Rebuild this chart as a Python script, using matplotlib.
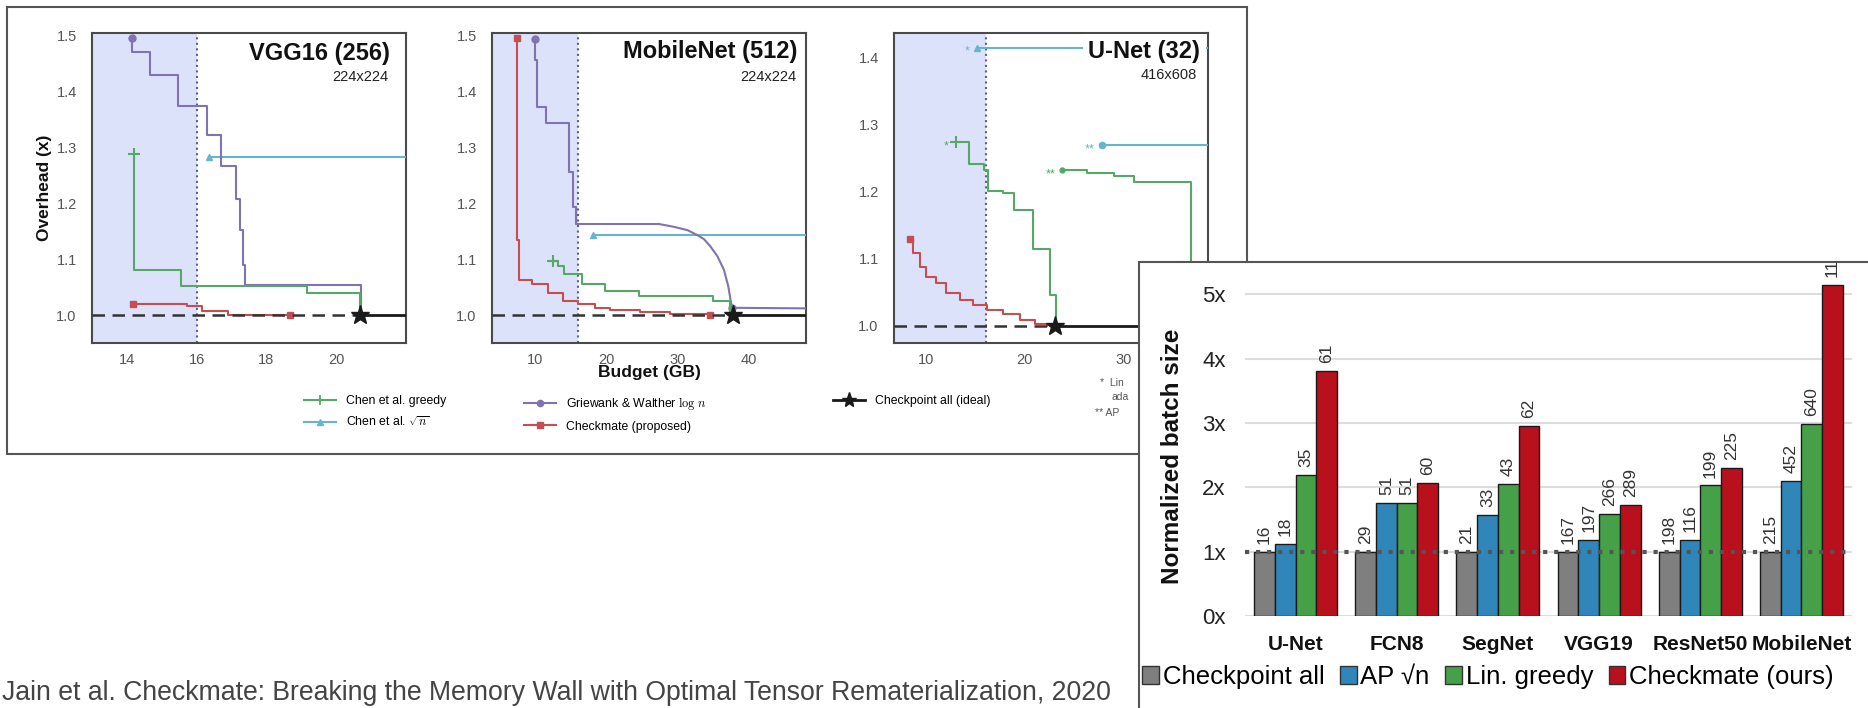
import matplotlib
matplotlib.use("Agg")
import matplotlib.pyplot as plt
from matplotlib import font_manager
from matplotlib.lines import Line2D
from matplotlib.patches import Rectangle, Patch
from matplotlib.transforms import Bbox, TransformedBbox

plt.rcParams['font.family'] = ['Liberation Sans', 'DejaVu Sans']
plt.rcParams['mathtext.fontset'] = 'cm'

W, H = 1868, 708

# ---------------- budget sweep data (budget GB, overhead x) ----------------
# VGG16 (256), 224x224
vgg_greedy_x = [14.19, 14.19, 15.55, 19.15, 20.68]
vgg_greedy_y = [1.288, 1.080, 1.052, 1.040, 1.0]
vgg_sqrt_x = [16.36, 22.0]
vgg_sqrt_y = [1.283, 1.283]
vgg_gw_x = [14.16, 14.16, 14.65, 15.47, 16.31, 16.71, 17.12, 17.23, 17.34, 17.39, 20.70]
vgg_gw_y = [1.496, 1.4715, 1.429, 1.375, 1.322, 1.267, 1.207, 1.153, 1.09, 1.053, 1.0]
vgg_cm_x = [14.18, 15.72, 16.15, 16.9, 18.67]
vgg_cm_y = [1.019, 1.0166, 1.0064, 1.001, 1.0]
vgg_all_x = 20.68

# MobileNet (512), 224x224
mnet_greedy_x = [12.6, 13.3, 14.1, 16.6, 19.9, 24.6, 34.9, 37.3]
mnet_greedy_y = [1.096, 1.087, 1.074, 1.056, 1.043, 1.035, 1.025, 1.0]
mnet_sqrt_x = [18.1, 48.0]
mnet_sqrt_y = [1.143, 1.143]
mnet_gw_x = [10.0, 10.0, 10.3, 11.5, 14.8, 15.3, 15.8, 27.4]
mnet_gw_y = [1.495, 1.457, 1.373, 1.343, 1.256, 1.194, 1.163, 1.163]
mnet_gw_curve_x = [27.4, 29.5, 31.4, 32.8, 33.7, 34.6, 35.6, 36.5, 37.1, 37.5, 37.7, 48.0]
mnet_gw_curve_y = [1.163, 1.158, 1.152, 1.143, 1.136, 1.123, 1.105, 1.081, 1.052, 1.022, 1.013, 1.012]
mnet_cm_x = [7.5, 7.5, 7.75, 9.67, 11.9, 14.0, 16.1, 18.5, 20.6, 24.8, 29.0, 34.6]
mnet_cm_y = [1.496, 1.134, 1.063, 1.055, 1.039, 1.025, 1.019, 1.013, 1.009, 1.005, 1.002, 1.0]
mnet_all_x = 37.8

# U-Net (32), 416x608
unet_greedy_x = [13.0, 14.3, 15.8, 16.3, 17.8, 18.9, 20.8, 22.5, 23.2]
unet_greedy_y = [1.274, 1.241, 1.233, 1.201, 1.198, 1.173, 1.114, 1.045, 1.0]
unet_greedy2_x = [23.8, 26.3, 29.0, 31.1, 36.9]
unet_greedy2_y = [1.232, 1.228, 1.223, 1.215, 1.0]
unet_sqrt_x = [15.1, 38.6]
unet_sqrt_y = [1.415, 1.415]
unet_sqrt2_x = [27.8, 38.6]
unet_sqrt2_y = [1.270, 1.270]
unet_cm_x = [8.3, 8.64, 9.3, 10.0, 11.0, 12.0, 13.4, 14.7, 16.1, 17.8, 19.5, 21.0, 22.2]
unet_cm_y = [1.129, 1.108, 1.088, 1.073, 1.063, 1.049, 1.038, 1.031, 1.024, 1.017, 1.009, 1.003, 1.0]
unet_all_x = 23.1

# ---------------- batch size comparison ----------------
models = ['U-Net', 'FCN8', 'SegNet', 'VGG19', 'ResNet50', 'MobileNet']
methods = ['Checkpoint all', 'AP √n', 'Lin. greedy', 'Checkmate (ours)']
normalized = [
    [1.0, 1.125, 2.19, 3.81],
    [1.0, 1.76, 1.76, 2.07],
    [1.0, 1.57, 2.05, 2.95],
    [1.0, 1.18, 1.59, 1.73],
    [1.0, 1.18, 2.03, 2.30],
    [1.0, 2.10, 2.98, 5.14],
]
batch_labels = [
    ['16', '18', '35', '61'],
    ['29', '51', '51', '60'],
    ['21', '33', '43', '62'],
    ['167', '197', '266', '289'],
    ['198', '116', '199', '225'],
    ['215', '452', '640', '1105'],
]
batch_yticks = [0, 1, 2, 3, 4, 5]

# ---------------- styles ----------------
C_GREEDY = '#55a868'
C_SQRT = '#64b5cd'
C_GW = '#8172b2'
C_CM = '#c44e52'
C_ALL = '#1a1a1a'
SHADE = '#dde2fb'
BAR_COLORS = ['#7f7f7f', '#3085b9', '#45a047', '#b8101c']


def narrow_family():
    try:
        font_manager.findfont('Liberation Sans Narrow', fallback_to_default=False)
        return ['Liberation Sans Narrow', 'DejaVu Sans'], 10.5
    except Exception:
        return ['Liberation Sans', 'DejaVu Sans'], 8.8


LEG_FAMILY, LEG_SIZE = narrow_family()


def px(l, t, r, b):
    return [l / W, 1 - b / H, (r - l) / W, (b - t) / H]


fig = plt.figure(figsize=(W / 100, H / 100), dpi=100)

# outer frame of the budget sweep figure
fig.add_artist(Rectangle((7 / W, 1 - 454 / H), (1247 - 7) / W, (454 - 7) / H,
                         transform=fig.transFigure, fill=False, ec='#555555',
                         lw=1.5, zorder=0.5))


def panel(rect, xlim, ylim, xticks, yticks, title, sub, title_xy, sub_xy, title_bbox=False):
    ax = fig.add_axes(px(*rect), zorder=1)
    ax.set_xlim(*xlim)
    ax.set_ylim(*ylim)
    ax.axvspan(xlim[0], 16, color=SHADE, lw=0, zorder=0)
    ax.axvline(16, color='#56618f', ls=':', lw=1.5, zorder=1)
    for s in ax.spines.values():
        s.set_color('#4a4a4a')
        s.set_linewidth(1.5)
    ax.set_xticks(xticks)
    ax.set_yticks(yticks)
    ax.set_yticklabels(['%.1f' % v for v in yticks])
    ax.tick_params(length=0, labelsize=10.5, colors='#555555')
    ax.tick_params(axis='y', pad=11)
    ax.tick_params(axis='x', pad=7)
    kw = dict(bbox=dict(fc='white', ec='none', pad=4)) if title_bbox else {}
    ax.text(title_xy[0], title_xy[1], title, transform=ax.transAxes, ha='right',
            va='center', fontsize=17, fontweight='bold', color='#111111', zorder=6, **kw)
    ax.text(sub_xy[0], sub_xy[1], sub, transform=ax.transAxes, ha='right',
            va='center', fontsize=10.5, color='#222222', zorder=6)
    return ax


def steps(ax, x, y, color, marker, every, ms=5, **kw):
    ax.step(x, y, where='post', color=color, lw=1.5, marker=marker,
            markevery=every, ms=ms, zorder=3, **kw)


def ideal(ax, xstar, xmax, xmin):
    ax.plot([xmin, xstar], [1.0, 1.0], color='#333333', lw=1.8, ls=(0, (5, 3)), zorder=4)
    ax.plot([xstar, xmax], [1.0, 1.0], color=C_ALL, lw=2, zorder=4)
    ax.plot([xstar], [1.0], marker='*', color=C_ALL, ms=14, zorder=5)


# VGG16
ax1 = panel((92, 33, 406, 343), (13, 22), (0.95, 1.505), [14, 16, 18, 20],
            [1.0, 1.1, 1.2, 1.3, 1.4, 1.5], 'VGG16 (256)', '224x224',
            (0.948, 0.935), (0.945, 0.857))
steps(ax1, vgg_sqrt_x, vgg_sqrt_y, C_SQRT, '^', [0])
steps(ax1, vgg_gw_x, vgg_gw_y, C_GW, 'o', [0])
steps(ax1, vgg_greedy_x, vgg_greedy_y, C_GREEDY, '+', [0], ms=8, mew=1.5)
steps(ax1, vgg_cm_x, vgg_cm_y, C_CM, 's', [0, len(vgg_cm_x) - 1], ms=4.5)
ideal(ax1, vgg_all_x, 22, 13)
ax1.set_ylabel('Overhead (x)', fontsize=12.5, fontweight='bold', color='#111111')
ax1.yaxis.set_label_coords(-0.127, 0.5)

# MobileNet
ax2 = panel((492, 33, 806, 343), (4, 48), (0.95, 1.505), [10, 20, 30, 40],
            [1.0, 1.1, 1.2, 1.3, 1.4, 1.5], 'MobileNet (512)', '224x224',
            (0.971, 0.94), (0.968, 0.857))
steps(ax2, mnet_sqrt_x, mnet_sqrt_y, C_SQRT, '^', [0])
steps(ax2, mnet_gw_x, mnet_gw_y, C_GW, 'o', [0])
ax2.plot(mnet_gw_curve_x, mnet_gw_curve_y, color=C_GW, lw=1.5, marker='o',
         markevery=[10], ms=5, zorder=3)
steps(ax2, mnet_greedy_x, mnet_greedy_y, C_GREEDY, '+', [0], ms=8, mew=1.5)
steps(ax2, mnet_cm_x, mnet_cm_y, C_CM, 's', [0, len(mnet_cm_x) - 1], ms=4.5)
ideal(ax2, mnet_all_x, 48, 4)
ax2.set_xlabel('Budget (GB)', fontsize=12.5, fontweight='bold', color='#111111', labelpad=-1)

# U-Net
ax3 = panel((894, 33, 1208, 343), (6.7, 38.6), (0.974, 1.437), [10, 20, 30],
            [1.0, 1.1, 1.2, 1.3, 1.4], 'U-Net (32)', '416x608',
            (0.975, 0.94), (0.965, 0.865), title_bbox=True)
steps(ax3, unet_sqrt_x, unet_sqrt_y, C_SQRT, '^', [0])
steps(ax3, unet_sqrt2_x, unet_sqrt2_y, C_SQRT, 'o', [0], ms=4.5)
steps(ax3, unet_greedy_x, unet_greedy_y, C_GREEDY, '+', [0], ms=8, mew=1.5)
steps(ax3, unet_greedy2_x, unet_greedy2_y, C_GREEDY, 'o', [0], ms=3.5)
steps(ax3, unet_cm_x, unet_cm_y, C_CM, 's', [0], ms=4.5)
ideal(ax3, unet_all_x, 38.6, 6.7)
for xx, yy, s, c in [(unet_sqrt_x[0], unet_sqrt_y[0], '*', C_SQRT),
                     (unet_sqrt2_x[0], unet_sqrt2_y[0], '**', C_SQRT),
                     (unet_greedy_x[0], unet_greedy_y[0], '*', C_GREEDY),
                     (unet_greedy2_x[0], unet_greedy2_y[0], '**', C_GREEDY)]:
    ax3.annotate(s, (xx, yy), xytext=(-5, -3), textcoords='offset points',
                 ha='right', va='center', fontsize=9, color=c, zorder=6)

# footnotes of the U-Net panel, running under the inset on the right
note_clip = TransformedBbox(Bbox([[0, 0], [1139 / W, 1]]), fig.transFigure)
for tx, ty, s in [(1100, 383, '*  Lin'), (1112, 397, 'ada'), (1095, 413, '** AP')]:
    t = fig.text(tx / W, 1 - ty / H, s, fontsize=7.5, color='#555555',
                 va='center', ha='left')
    t.set_clip_box(note_clip)
    t.set_clip_on(True)

# legend of the budget sweep, one column at a time
leg_kw = dict(frameon=False, handlelength=2.6, handletextpad=0.8,
              labelspacing=0.7, loc='upper left', borderaxespad=0, borderpad=0,
              prop=dict(family=LEG_FAMILY, size=LEG_SIZE))
col1 = [Line2D([], [], color=C_GREEDY, lw=1.5, marker='+', ms=7, mew=1.3),
        Line2D([], [], color=C_SQRT, lw=1.5, marker='^', ms=4)]
col2 = [Line2D([], [], color=C_GW, lw=1.5, marker='o', ms=4.5),
        Line2D([], [], color=C_CM, lw=1.5, marker='s', ms=4)]
col3 = [Line2D([], [], color=C_ALL, lw=2, marker='*', ms=11)]
fig.legend(col1, ['Chen et al. greedy', r'Chen et al. $\sqrt{n}$'],
           bbox_to_anchor=(304 / W, 1 - 395 / H), **leg_kw)
fig.legend(col2, ['Griewank & Walther $\\log\\,n$', 'Checkmate (proposed)'],
           bbox_to_anchor=(524 / W, 1 - 395 / H), **leg_kw)
fig.legend(col3, ['Checkpoint all (ideal)'],
           bbox_to_anchor=(833 / W, 1 - 395 / H), **leg_kw)

# ---------------- batch size inset ----------------
fig.add_artist(Rectangle((1139 / W, -0.02), 1.05 - 1139 / W, 1.02 - 262 / H,
                         transform=fig.transFigure, fc='white', ec='#555555',
                         lw=1.5, zorder=10))
bx = fig.add_axes(px(1245, 262, 1852, 616), zorder=11)
bx.set_facecolor('none')
bx.set_xlim(-0.5, len(models) - 0.5)
bx.set_ylim(0, 5.5)
for s in bx.spines.values():
    s.set_visible(False)
bx.set_yticks(batch_yticks)
bx.set_yticklabels(['%dx' % v for v in batch_yticks])
bx.yaxis.grid(True, color='#dddddd', lw=1.5, zorder=0)
bx.set_axisbelow(True)
bx.tick_params(length=0)
bx.tick_params(axis='y', labelsize=16, colors='#222222', pad=14)
bx.set_xticks(range(len(models)))
bx.set_xticklabels(models, fontsize=15, fontweight='bold', color='#111111')
bx.tick_params(axis='x', pad=14)
bw = 0.205
for i, vals in enumerate(normalized):
    for j, v in enumerate(vals):
        xpos = i + (j - 1.5) * bw
        bx.bar(xpos, v, width=bw, color=BAR_COLORS[j], edgecolor='#1a1a1a',
               lw=1, zorder=2)
        bx.text(xpos, v + 0.12, batch_labels[i][j], rotation=90, ha='center',
                va='bottom', fontsize=12.5, color='#333333', clip_on=True, zorder=4)
bx.axhline(1.0, color='#555555', ls=':', lw=3, zorder=3)
bx.set_ylabel('Normalized batch size', fontsize=17.5, fontweight='bold', color='#111111')
bx.yaxis.set_label_coords(-0.10, 0.45)
handles = [Patch(fc=c, ec='#333333', lw=1) for c in BAR_COLORS]
bx.legend(handles, methods, loc='center', bbox_to_anchor=(1488 / W, 1 - 677 / H),
          bbox_transform=fig.transFigure, ncol=4, frameon=False, fontsize=18.5,
          handlelength=0.65, handleheight=0.65, handletextpad=0.15,
          columnspacing=0.6, borderpad=0)

fig.text(2 / W, 1 - 693 / H,
         'Jain et al. Checkmate: Breaking the Memory Wall with Optimal Tensor '
         'Rematerialization, 2020', fontsize=19.2, color='#444444', va='center',
         ha='left')

fig.savefig('out.png', dpi=100)
